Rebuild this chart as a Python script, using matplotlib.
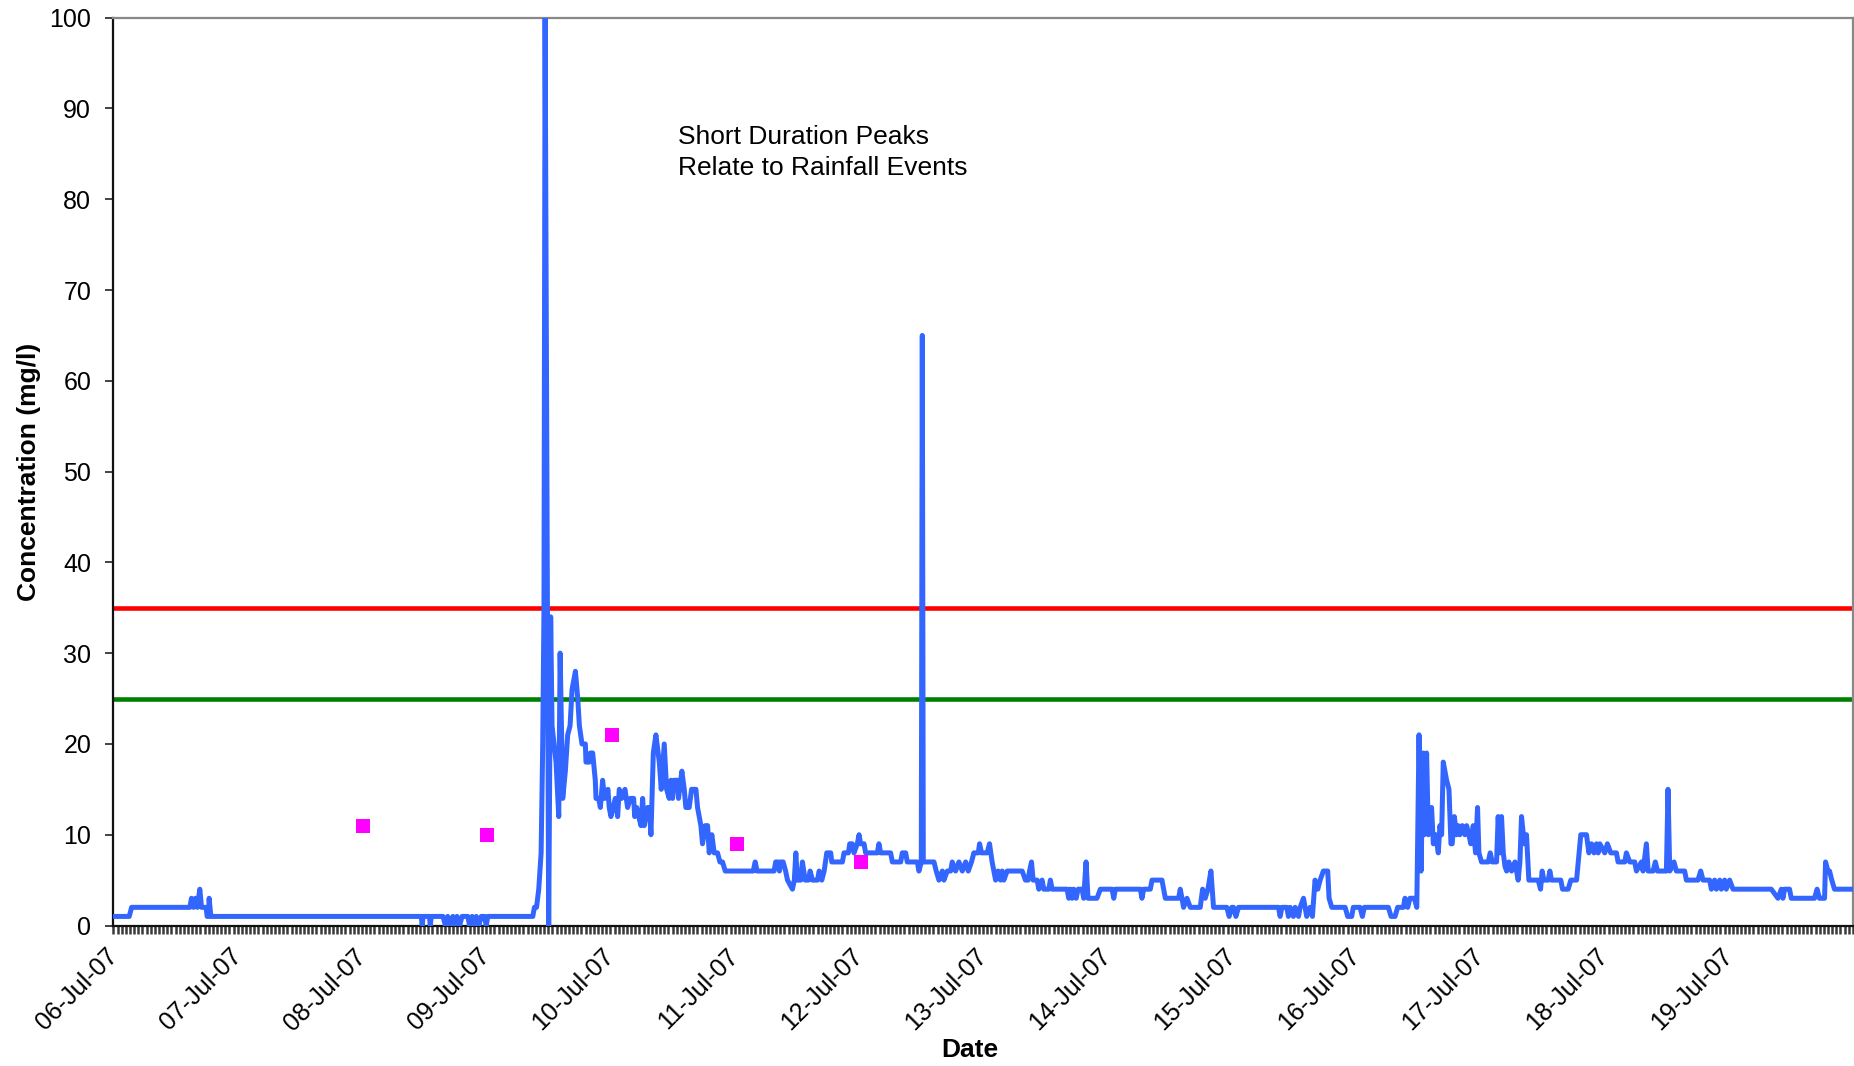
import matplotlib
matplotlib.use("Agg")
import matplotlib.pyplot as plt
import matplotlib.dates as mdates
from matplotlib.ticker import MultipleLocator
import pandas as pd

plt.rcParams["font.family"] = ["Liberation Sans", "DejaVu Sans"]

START = pd.Timestamp("2007-07-06")

# continuous monitor: offset in days from START, concentration mg/l
monitor_days = [
    0, 0.127, 0.146, 0.615, 0.628, 0.645, 0.66, 0.675, 0.695, 0.709, 0.745, 0.754, 0.765, 0.77, 0.784,
    2.477, 2.485, 2.492, 2.543, 2.55, 2.558, 2.652, 2.672, 2.69, 2.705, 2.732, 2.745, 2.765, 2.786,
    2.806, 2.852, 2.866, 2.887, 2.906, 2.92, 2.941, 2.96, 2.987, 3.0, 3.013, 3.375, 3.388, 3.405,
    3.423, 3.442, 3.455, 3.465, 3.474, 3.503, 3.519,
    3.53, 3.562, 3.584, 3.595, 3.616, 3.637, 3.656, 3.675, 3.691, 3.718, 3.737, 3.75, 3.771, 3.798,
    3.803, 3.83, 3.838, 3.857, 3.878, 3.884, 3.905, 3.919, 3.937, 3.953, 3.98, 3.99, 4.004, 4.039,
    4.058, 4.071, 4.09, 4.117, 4.138, 4.16, 4.187, 4.195, 4.211, 4.227, 4.246, 4.259, 4.272, 4.299,
    4.313, 4.326, 4.345, 4.366, 4.393, 4.409, 4.433, 4.452, 4.473, 4.487, 4.5, 4.514, 4.54, 4.548,
    4.575, 4.594, 4.607, 4.634, 4.653, 4.688, 4.701, 4.728, 4.741, 4.763, 4.782, 4.795, 4.816, 4.835,
    4.862, 4.881, 4.902, 4.924,
    5.149, 5.165, 5.18, 5.317, 5.33, 5.35, 5.36, 5.37, 5.39, 5.41, 5.425, 5.465, 5.48, 5.492, 5.505,
    5.532, 5.545, 5.567, 5.594, 5.607, 5.626, 5.666, 5.68, 5.701, 5.72, 5.741, 5.773, 5.781, 5.867,
    5.88, 5.915, 5.926, 5.947, 5.96, 5.987, 6.001, 6.014, 6.041, 6.054, 6.148, 6.161, 6.175, 6.255,
    6.269, 6.336, 6.349, 6.376, 6.389, 6.47, 6.483, 6.502, 6.51, 6.518, 6.604, 6.622, 6.644, 6.671,
    6.684, 6.711, 6.738, 6.751, 6.778, 6.805, 6.832, 6.859, 6.88, 6.906, 6.925, 6.96, 6.971, 6.987,
    7.032, 7.051, 7.072, 7.086, 7.1, 7.12, 7.14, 7.153, 7.166, 7.193, 7.314, 7.34,
    7.362, 7.373, 7.389, 7.402, 7.434, 7.448, 7.474, 7.488, 7.528, 7.541, 7.555, 7.675, 7.689, 7.702,
    7.716, 7.729, 7.748, 7.764, 7.796, 7.809, 7.828, 7.844, 7.916, 7.943, 8.037, 8.051, 8.064, 8.265,
    8.278, 8.292, 8.345, 8.359, 8.439, 8.466, 8.573, 8.586, 8.6, 8.613, 8.64, 8.667, 8.747, 8.766,
    8.787, 8.809, 8.833, 8.854, 8.961, 8.98, 9.001, 9.015, 9.034, 9.055, 9.377, 9.39, 9.404, 9.444,
    9.457, 9.471, 9.497, 9.511, 9.538, 9.551, 9.578, 9.604, 9.631, 9.65, 9.671, 9.693, 9.712, 9.738,
    9.773, 9.784, 9.806, 9.913, 9.934, 9.966, 9.979, 10.033, 10.052, 10.068, 10.261, 10.283, 10.315,
    10.336, 10.382, 10.395, 10.417, 10.435, 10.47, 10.49, 10.508, 10.524, 10.542, 10.55, 10.569,
    10.583, 10.609, 10.623, 10.642, 10.663, 10.676, 10.69, 10.703, 10.73, 10.749, 10.765, 10.775,
    10.792, 10.81, 10.824, 10.837, 10.856, 10.877, 10.891, 10.909, 10.925, 10.944, 10.963, 10.979,
    10.99, 11.011, 11.065, 11.081, 11.097, 11.132, 11.145,
    11.159, 11.172, 11.186, 11.2, 11.213, 11.231, 11.253, 11.28, 11.293, 11.306, 11.32, 11.333,
    11.355, 11.373, 11.392, 11.467, 11.486, 11.499, 11.513, 11.548, 11.561, 11.574, 11.649, 11.663,
    11.708, 11.73, 11.776, 11.81, 11.856, 11.875, 11.896, 11.917, 11.936, 11.95, 11.963, 12.003,
    12.024, 12.051, 12.097, 12.11, 12.164, 12.177, 12.204, 12.244, 12.258, 12.298, 12.311, 12.338,
    12.352, 12.392, 12.41, 12.427, 12.499, 12.512, 12.526, 12.56, 12.579, 12.646, 12.66, 12.753,
    12.775, 12.794, 12.847, 12.861, 12.887, 12.901, 12.928, 12.941, 12.968, 12.981, 13.008, 13.035,
    13.343, 13.397, 13.424, 13.437, 13.45, 13.49, 13.504, 13.691, 13.712, 13.731, 13.772, 13.78,
    13.799, 13.812, 13.83, 13.852, 14.0,
]
monitor_conc = [
    1, 1, 2, 2, 3, 2, 3, 2, 4, 2, 2, 1, 1, 3, 1,
    1, 0, 1, 1, 0, 1, 1, 0, 1, 0, 1, 0, 1, 0,
    1, 1, 0, 1, 0, 1, 0, 1, 1, 0, 1, 1, 2, 2,
    4, 8, 20, 35, 100, 0, 34,
    22, 18, 12, 30, 14, 17, 21, 22, 26, 28, 25, 22, 20, 20,
    18, 18, 19, 19, 16, 14, 14, 13, 16, 14, 15, 13, 12, 14,
    12, 15, 14, 15, 13, 14, 14, 12, 13, 12, 11, 14, 11, 13,
    13, 10, 19, 21, 18, 15, 20, 15, 14, 16, 14, 16, 16, 14,
    17, 15, 13, 13, 15, 15, 13, 11, 9, 11, 11, 8, 10, 8,
    8, 7, 7, 6,
    6, 7, 6, 6, 7, 7, 6, 7, 7, 6, 5, 4, 5, 8, 5,
    5, 7, 5, 5, 6, 5, 5, 6, 5, 6, 8, 8, 7, 7,
    8, 8, 9, 9, 8, 9, 10, 9, 9, 8, 8, 9, 8, 8,
    7, 7, 8, 8, 7, 7, 6, 7, 65, 7, 7, 6, 5, 6,
    5, 6, 6, 7, 6, 7, 6, 7, 6, 7, 8, 8, 9, 8,
    8, 9, 7, 6, 5, 6, 5, 6, 5, 6, 6, 5,
    5, 6, 7, 5, 5, 4, 5, 4, 4, 5, 4, 4, 3, 4,
    3, 4, 3, 4, 4, 3, 7, 3, 3, 4, 4, 3, 4, 4,
    3, 4, 4, 5, 5, 3, 3, 4, 3, 2, 3, 2, 2, 4,
    3, 4, 6, 2, 2, 1, 2, 2, 1, 2, 2, 1, 2, 2,
    1, 2, 1, 2, 1, 2, 3, 1, 2, 1, 5, 4, 5, 6,
    6, 3, 2, 2, 1, 1, 2, 2, 1, 2, 2, 1, 1,
    2, 2, 3, 2, 3, 3, 2, 21, 6, 19, 10, 19,
    10, 13, 9, 10, 8, 11, 10, 18, 16, 15, 9, 9,
    12, 10, 11, 10, 11, 10, 11, 10, 9, 11, 8, 13,
    8, 7, 7, 8, 7, 7, 12,
    8, 12, 8, 6.5, 6, 7, 6, 7, 6, 5, 7, 12,
    9, 10, 5, 5, 4, 6, 5, 5, 6, 5, 5, 4,
    4, 5, 5, 10, 10, 8, 9, 8, 9, 8, 9, 8,
    9, 8, 8, 7, 7, 8, 7, 7, 6, 7, 6, 9,
    6, 6, 7, 6, 6, 15, 6, 7, 6, 6, 5, 5,
    6, 5, 5, 4, 5, 4, 5, 4, 5, 4, 5, 4,
    4, 3, 4, 3, 4, 4, 3, 3, 4, 3, 3, 7,
    6, 6, 5, 4, 4,
]

# spot samples
sample_days = [2.006, 3.004, 4.011, 5.019, 6.017]
sample_conc = [11, 10, 21, 9, 7]

upper_limit = 35
lower_limit = 25

fig = plt.figure(figsize=(18.54, 10.66), dpi=100)
ax = fig.add_axes([0.0612, 0.1318, 0.9382, 0.8516])

t_mon = START + pd.to_timedelta(monitor_days, unit="D")
t_smp = START + pd.to_timedelta(sample_days, unit="D")

ax.axhline(upper_limit, color="#ff0000", linewidth=3.3, zorder=2)
ax.axhline(lower_limit, color="#008000", linewidth=3.3, zorder=2)
ax.plot(t_mon, monitor_conc, color="#3366ff", linewidth=3.6,
        solid_joinstyle="round", solid_capstyle="round", zorder=3)
ax.plot(t_smp, sample_conc, linestyle="none", marker="s", markersize=10,
        color="#ff00ff", markeredgewidth=0, zorder=4)

ax.text(START + pd.Timedelta(days=4.543), 88.2,
        "Short Duration Peaks\nRelate to Rainfall Events",
        fontsize=19, ha="left", va="top", linespacing=1.38)

ax.set_xlim(START, START + pd.Timedelta(days=14))
ax.set_ylim(0, 100)
ax.set_yticks(range(0, 101, 10))

day_ticks = pd.date_range("2007-07-06", "2007-07-19", freq="D")
ax.set_xticks(day_ticks)
ax.xaxis.set_major_formatter(mdates.DateFormatter("%d-%b-%y"))
ax.xaxis.set_minor_locator(MultipleLocator(1 / 30))

ax.tick_params(axis="y", labelsize=18, length=6, width=1.2, pad=10, color="#222222")
ax.tick_params(axis="x", which="both", length=5.5, width=1.8, color="#3a3a3a")
ax.tick_params(axis="x", which="major", labelsize=18, pad=14)
for lbl in ax.get_xticklabels():
    lbl.set_rotation(45)
    lbl.set_ha("right")
    lbl.set_va("center")
    lbl.set_rotation_mode("anchor")

for side in ("left", "bottom"):
    ax.spines[side].set_color("#111111")
    ax.spines[side].set_linewidth(1.6)
for side in ("top", "right"):
    ax.spines[side].set_color("#888888")
    ax.spines[side].set_linewidth(1.6)

ax.set_ylabel("Concentration (mg/l)", fontsize=19, fontweight="bold", labelpad=6)
ax.set_xlabel("Date", fontsize=19, fontweight="bold")
ax.xaxis.set_label_coords(0.4925, -0.124)

fig.savefig("out.png", dpi=100)
